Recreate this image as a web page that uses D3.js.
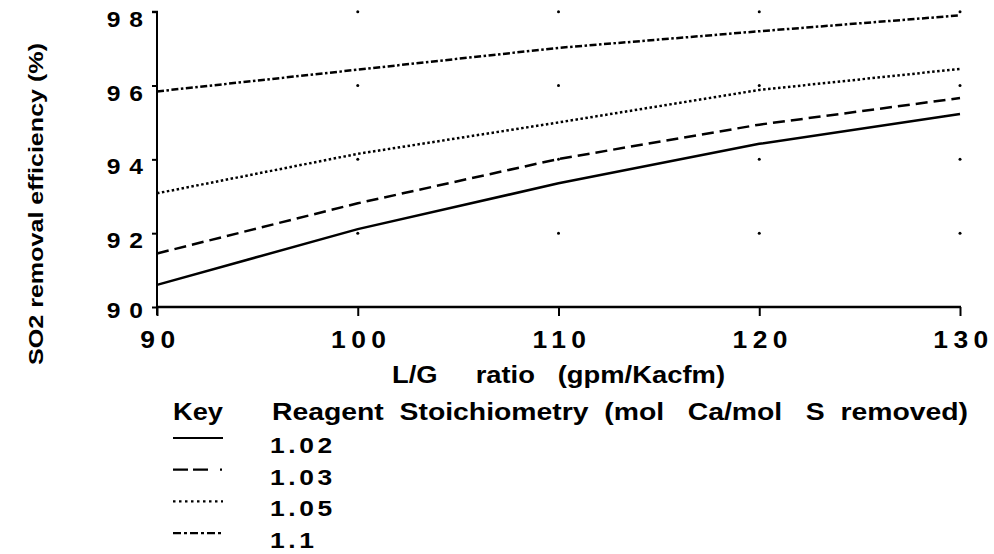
<!DOCTYPE html>
<html>
<head>
<meta charset="utf-8">
<script src="https://cdn.jsdelivr.net/npm/d3@7/dist/d3.min.js"></script>
<style>
  html, body { margin: 0; padding: 0; background: #fff; }
  svg { display: block; }
  text { font-family: "Liberation Sans", Arial, Helvetica, sans-serif; font-weight: bold; fill: #000; white-space: pre; }
</style>
</head>
<body>
<svg id="chart" width="994" height="554"></svg>
<script>
// ---- data ----
const lgRatio = [90, 100, 110, 120, 130];
const eff102 = [90.60, 92.11, 93.35, 94.42, 95.23];
const eff103 = [91.45, 92.81, 94.01, 94.94, 95.66];
const eff105 = [93.08, 94.15, 95.00, 95.88, 96.45];
const eff110 = [95.84, 96.43, 97.02, 97.47, 97.90];
const seriesNames = ["1.02", "1.03", "1.05", "1.1"];
const xTicks = [90, 100, 110, 120, 130];
const yTicks = [90, 92, 94, 96, 98];
const xTitle = "L/G     ratio   (gpm/Kacfm)";
const yTitle = "SO2 removal efficiency (%)";
const keyLabel = "Key";
const keyTitle = "Reagent  Stoichiometry  (mol   Ca/mol   S  removed)";

// ---- styles ----
const dashes = ["none", "12,6", "2.5,2.5", "7,2.5,2.5,2.5"];
const legDashes = ["none", "15,5,15,12,2", "2.5,3.5", "8,3,3,3"];
const series = [eff102, eff103, eff105, eff110].map((vals, i) => ({
  name: seriesNames[i], dash: dashes[i], legDash: legDashes[i],
  pts: lgRatio.map((x, j) => ({ x, y: vals[j] }))
}));

const svg = d3.select("#chart");
const x = d3.scaleLinear().domain([90, 130]).range([157, 960]);
const y = d3.scaleLinear().domain([90, 98]).range([307, 11.7]);

// grid dots
const grid = svg.append("g");
xTicks.slice(1).forEach(xv => yTicks.slice(1).forEach(yv => {
  grid.append("circle").attr("cx", x(xv)).attr("cy", y(yv)).attr("r", 1.5).attr("fill", "#000");
}));

// axes
const yAxis = svg.append("g").attr("transform", `translate(${x(90)},0)`)
  .call(d3.axisLeft(y).tickValues(yTicks).tickSize(5).tickFormat(""));
yAxis.select(".domain").attr("stroke-width", 2).attr("d", `M-5,${y(98)}H0V${y(90)+8}`);
yAxis.selectAll(".tick line").attr("stroke-width", 2);

const xAxis = svg.append("g").attr("transform", `translate(0,${y(90)})`)
  .call(d3.axisBottom(x).tickValues(xTicks).tickSize(9).tickFormat(""));
xAxis.select(".domain").attr("stroke-width", 2.5).attr("d", `M${x(90)},0H${x(130)+1}`);
xAxis.selectAll(".tick line").attr("stroke-width", 2);

// tick labels (y: right edge near x=142, stretched glyphs)
const yLS = 8;
svg.append("g").selectAll("text").data(yTicks).join("text")
  .attr("transform", d => `translate(${x(90) - 5},${y(d) + (d === 90 ? 11 : 15)}) scale(1.12,1)`)
  .attr("text-anchor", "end").attr("font-size", 22).attr("letter-spacing", yLS)
  .text(d => d);

const xLS = 5;
svg.append("g").selectAll("text").data(xTicks).join("text")
  .attr("transform", d => `translate(${x(d) + 3.5},348) scale(1.1,1)`)
  .attr("text-anchor", "middle").attr("font-size", 24).attr("letter-spacing", xLS)
  .text(d => d);

// lines
const line = d3.line().x(d => x(d.x)).y(d => y(d.y));
svg.append("g").selectAll("path").data(series).join("path")
  .attr("d", d => line(d.pts)).attr("fill", "none").attr("stroke", "#000")
  .attr("stroke-width", 2.5).attr("stroke-dasharray", d => d.dash);

// axis titles
svg.append("text").attr("x", 392).attr("y", 383).attr("font-size", 23)
  .attr("textLength", 333).attr("lengthAdjust", "spacingAndGlyphs").text(xTitle);

svg.append("text").attr("transform", "translate(43,365) rotate(-90)")
  .attr("font-size", 21).attr("textLength", 322).attr("lengthAdjust", "spacingAndGlyphs")
  .text(yTitle);

// legend
svg.append("text").attr("x", 173).attr("y", 420).attr("font-size", 23)
  .attr("textLength", 50).attr("lengthAdjust", "spacingAndGlyphs").text(keyLabel);
svg.append("text").attr("x", 272).attr("y", 420).attr("font-size", 23)
  .attr("textLength", 696).attr("lengthAdjust", "spacingAndGlyphs").text(keyTitle);

const leg = svg.append("g").selectAll("g").data(series).join("g")
  .attr("transform", (d, i) => `translate(0,${453 + i * 31.7})`);
leg.append("line").attr("x1", 173).attr("x2", 223).attr("y1", -15).attr("y2", -15)
  .attr("stroke", "#000").attr("stroke-width", 2.2).attr("stroke-dasharray", d => d.legDash);
leg.append("text").attr("transform", "translate(270,0) scale(1.2,1)").attr("font-size", 22)
  .attr("letter-spacing", 3).text(d => d.name);
</script>
</body>
</html>
